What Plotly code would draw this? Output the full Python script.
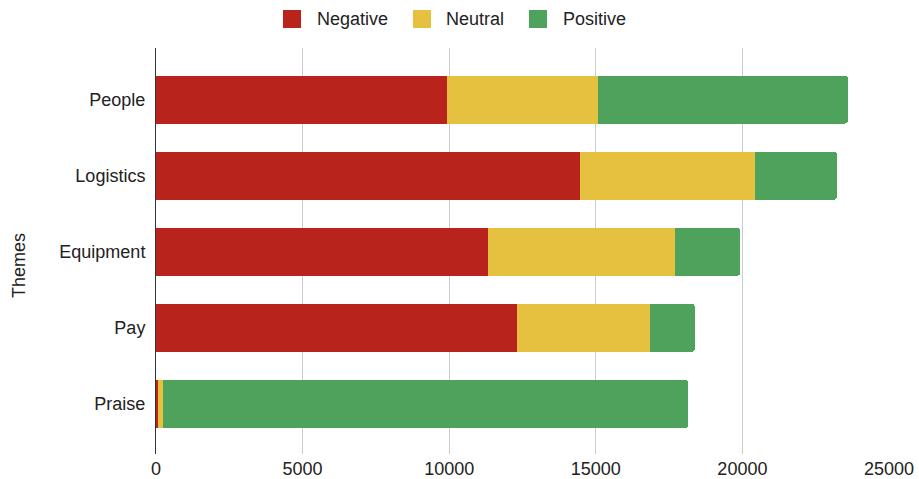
import plotly.graph_objects as go

# Theme sentiment counts (stacked horizontally)
themes = ["People", "Logistics", "Equipment", "Pay", "Praise"]
negative = [9920, 14450, 11310, 12320, 65]
neutral = [5150, 5970, 6380, 4520, 160]
positive = [8520, 2800, 2230, 1530, 17930]
x_ticks = [0, 5000, 10000, 15000, 20000, 25000]

series_names = ["Negative", "Neutral", "Positive"]
series_values = [negative, neutral, positive]
series_colors = ["#B8231B", "#E6C13F", "#4FA25C"]

FONT = "Liberation Sans, Arial, Helvetica, sans-serif"
W, H = 919, 479
M_L, M_R, M_T, M_B = 156, 30, 48, 25
PW, PH = W - M_L - M_R, H - M_T - M_B


def px_x(px):
    """Page pixel x -> paper fraction."""
    return (px - M_L) / PW


def px_y(py):
    """Page pixel y (from top) -> paper fraction."""
    return (H - M_B - py) / PH


fig = go.Figure()
for name, vals, color in zip(series_names, series_values, series_colors):
    fig.add_trace(go.Bar(
        y=themes, x=vals, name=name, orientation="h",
        marker=dict(color=color, line=dict(width=0)),
        hoverinfo="x+y+name",
    ))

# Legend row across the top: coloured swatch followed by its label
legend_swatch_left = [283, 413, 529]
legend_text_left = [315, 444, 561]
shapes, annotations = [], []
for name, color, sx, tx in zip(series_names, series_colors,
                               legend_swatch_left, legend_text_left):
    shapes.append(dict(
        type="rect", xref="paper", yref="paper",
        x0=px_x(sx), x1=px_x(sx + 18), y0=px_y(28), y1=px_y(10),
        fillcolor=color, line=dict(width=0), layer="above",
    ))
    annotations.append(dict(
        text=name, xref="paper", yref="paper",
        x=px_x(tx), y=px_y(19), xanchor="left", yanchor="middle",
        showarrow=False, font=dict(size=18, color="#222222"),
    ))

annotations.append(dict(
    text="Themes", textangle=-90,
    xref="paper", yref="paper", x=px_x(19), y=px_y(266),
    xanchor="center", yanchor="middle", showarrow=False,
    font=dict(size=18, color="#222222"),
))

fig.update_layout(
    barmode="stack",
    bargap=0.37,
    barcornerradius=3,
    width=W, height=H,
    margin=dict(l=M_L, r=M_R, t=M_T, b=M_B, autoexpand=False),
    paper_bgcolor="white",
    plot_bgcolor="white",
    font=dict(family=FONT, size=18, color="#222222"),
    showlegend=False,
    xaxis=dict(
        range=[0, 25000], tickvals=x_ticks,
        tickformat="d",
        showgrid=True, gridcolor="#CCCCCC", gridwidth=1,
        zeroline=False, showline=False, ticks="",
        automargin=False, ticklabelstandoff=2,
        tickfont=dict(size=18, color="#222222"),
        fixedrange=True,
    ),
    yaxis=dict(
        type="category", categoryorder="array", categoryarray=themes,
        range=[4.657, -0.677],
        showgrid=False, zeroline=False,
        showline=True, linecolor="#333333", linewidth=1,
        ticks="", ticklabelstandoff=6,
        automargin=False,
        tickfont=dict(size=18, color="#222222"),
        fixedrange=True,
    ),
    shapes=shapes,
    annotations=annotations,
)

fig.write_html("out.html")
